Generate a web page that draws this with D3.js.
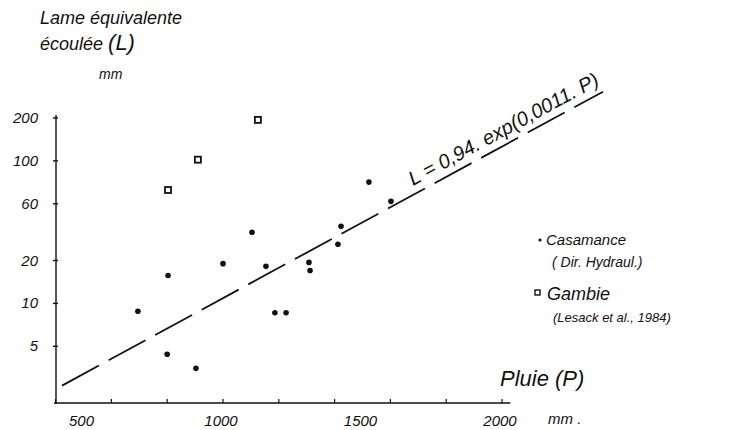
<!DOCTYPE html>
<html>
<head>
<meta charset="utf-8">
<script src="https://cdn.jsdelivr.net/npm/d3@7"></script>
<style>
  body { margin: 0; background: #fff; }
  svg text { font-family: "Liberation Sans", "DejaVu Sans", sans-serif; font-style: italic; fill: #111; }
</style>
</head>
<body>
<div id="viz"></div>
<script>
// Casamance (Dir. Hydraul.) : rainfall P (mm) vs runoff depth L (mm)
const casaP = [695, 800, 803, 903, 1000, 1104, 1154, 1186, 1226, 1308, 1312, 1412, 1423, 1523, 1602];
const casaL = [8.8, 4.4, 15.7, 3.5, 19, 31.6, 18.2, 8.6, 8.6, 19.4, 17, 26, 34.8, 71, 52];
// Gambie (Lesack et al., 1984)
const gambP = [803, 910, 1125];
const gambL = [62.5, 102, 194];
// fitted line L = 0,94 . exp(k . P), end points
const lineP = [423, 2362];
const lineL = [2.65, 306];

const yTicks = [5, 10, 20, 50, 100, 200];
const yTickLabels = ['5', '10', '20', '60', '100', '200'];
const xTicks = [400, 600, 800, 1000, 1200, 1400, 1600, 1800, 2000];
const xLabels = [500, 1000, 1500, 2000];

const W = 741, H = 430;
const svg = d3.select('#viz').append('svg').attr('width', W).attr('height', H);

const x = d3.scaleLinear().domain([400, 2000]).range([55.6, 502]);
const y = d3.scaleLog().domain([2, 200]).range([403, 118]);

const ink = '#111';

// axes
svg.append('line').attr('x1', 56).attr('x2', 56).attr('y1', 115).attr('y2', 404)
  .attr('stroke', ink).attr('stroke-width', 1.4);
svg.append('line').attr('x1', 54).attr('x2', x(2030)).attr('y1', 403).attr('y2', 403)
  .attr('stroke', ink).attr('stroke-width', 1.4);

svg.selectAll('.yt').data(yTicks).join('line').attr('class', 'yt')
  .attr('x1', 53).attr('x2', 58).attr('y1', d => y(d)).attr('y2', d => y(d))
  .attr('stroke', ink).attr('stroke-width', 1.4);
svg.selectAll('.yl').data(yTicks).join('text').attr('class', 'yl')
  .attr('x', 38).attr('y', d => y(d) + 5).attr('text-anchor', 'end')
  .attr('font-size', 15).text((d, i) => yTickLabels[i]);

svg.selectAll('.xt').data(xTicks).join('line').attr('class', 'xt')
  .attr('x1', d => x(d)).attr('x2', d => x(d)).attr('y1', 399).attr('y2', 403)
  .attr('stroke', ink).attr('stroke-width', 1.2);
svg.selectAll('.xl').data(xLabels).join('text').attr('class', 'xl')
  .attr('x', d => x(d) - 2).attr('y', 426).attr('text-anchor', 'middle')
  .attr('font-size', 15).text(d => d);

// fitted line (dashed)
svg.append('line')
  .attr('x1', x(lineP[0])).attr('y1', y(lineL[0]))
  .attr('x2', x(lineP[1])).attr('y2', y(lineL[1]))
  .attr('stroke', ink).attr('stroke-width', 1.8)
  .attr('stroke-dasharray', '42 11');

const ang = Math.atan2(y(lineL[1]) - y(lineL[0]), x(lineP[1]) - x(lineP[0])) * 180 / Math.PI;
const tx = 413;
const ty = y(lineL[0]) + (tx - x(lineP[0])) * Math.tan(ang * Math.PI / 180) - 9;
svg.append('text')
  .attr('transform', `translate(${tx},${ty}) rotate(${ang})`)
  .attr('font-size', 20).text('L = 0,94. exp(0,0011. P)');

// points
svg.selectAll('.casa').data(casaP).join('circle').attr('class', 'casa')
  .attr('cx', d => x(d)).attr('cy', (d, i) => y(casaL[i])).attr('r', 2.8).attr('fill', ink);
svg.selectAll('.gamb').data(gambP).join('rect').attr('class', 'gamb')
  .attr('x', d => x(d) - 3).attr('y', (d, i) => y(gambL[i]) - 3)
  .attr('width', 6).attr('height', 6)
  .attr('fill', '#fff').attr('stroke', ink).attr('stroke-width', 1.8);

// y title
svg.append('text').attr('x', 40).attr('y', 24).attr('font-size', 18).text('Lame équivalente');
svg.append('text').attr('x', 40).attr('y', 50).attr('font-size', 18)
  .text('écoulée ').append('tspan').attr('font-size', 22).text('(L)');
svg.append('text').attr('x', 99).attr('y', 79).attr('font-size', 14).text('mm');

// x title
svg.append('text').attr('x', 500).attr('y', 386).attr('font-size', 22).text('Pluie (P)');
svg.append('text').attr('x', 548).attr('y', 424).attr('font-size', 15).text('mm .');

// legend
svg.append('circle').attr('cx', 540).attr('cy', 240).attr('r', 1.6).attr('fill', ink);
svg.append('text').attr('x', 546).attr('y', 245).attr('font-size', 15).text('Casamance');
svg.append('text').attr('x', 552).attr('y', 267).attr('font-size', 14).text('( Dir. Hydraul.)');
svg.append('rect').attr('x', 535).attr('y', 290).attr('width', 5).attr('height', 5)
  .attr('fill', '#fff').attr('stroke', ink).attr('stroke-width', 1.4);
svg.append('text').attr('x', 547).attr('y', 300).attr('font-size', 18).text('Gambie');
svg.append('text').attr('x', 553).attr('y', 322).attr('font-size', 13).text('(Lesack et al., 1984)');
</script>
</body>
</html>
